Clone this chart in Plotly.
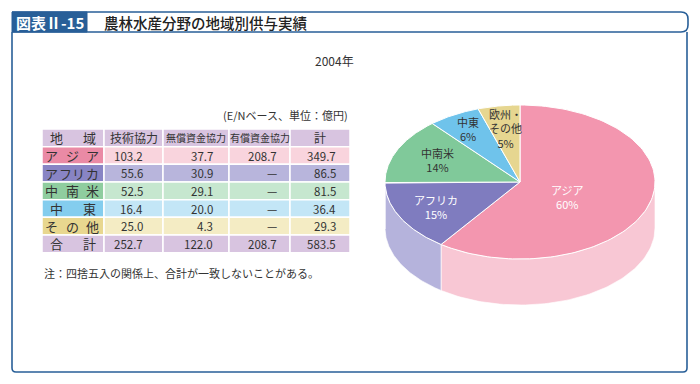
import numpy as np
import plotly.graph_objects as go

# ---------------- data ----------------
col_headers = ["地域", "技術協力", "無償資金協力", "有償資金協力", "計"]
region_labels = ["アジア", "アフリカ", "中南米", "中東", "その他", "合計"]
tech = [103.2, 55.6, 52.5, 16.4, 25.0, 252.7]
grant = [37.7, 30.9, 29.1, 20.0, 4.3, 122.0]
loan = [208.7, None, None, None, None, 208.7]
total = [349.7, 86.5, 81.5, 36.4, 29.3, 583.5]

pie_labels = ["アジア", "アフリカ", "中南米", "中東", "欧州・<br>その他"]
pie_values = total[:5]

title_tag = "図表Ⅱ-15"
title_text = "農林水産分野の地域別供与実績"
year_text = "2004年"
unit_text = "(E/Nベース、単位：億円)"
note_text = "注：四捨五入の関係上、合計が一致しないことがある。"

# ---------------- style ----------------
FONT = "Noto Sans CJK JP"
BLUE = "#285f98"
TXT = "#333333"
OFF = 8  # page body margin of the html page
top_colors = ["#f396af", "#7f7cbf", "#80c99a", "#6fc3eb", "#e6d690"]
side_colors = ["#f8c7d4", "#b5b3dc", "#b9e2c6", "#b5e0f4", "#f1e6be"]
label_colors = ["white", "white", TXT, TXT, TXT]
label_radius = [0.37, 0.70, 0.67, 0.78, 0.70]
label_dy = [6, 0, -1, -1, 0]

header_fill = "#d8c4e0"
first_col_fill = ["#ea8aa5", "#8884c4", "#8fcd9f", "#84cdee", "#e8d78f", "#d8c4e0"]
data_fill = ["#f9d4dd", "#b8b5dc", "#c6e7cf", "#c3e6f6", "#f4ecc4", "#d8c4e0"]

# table geometry (pixels)
col_x = [42, 104, 163, 229, 290, 350]
row_top, row_h = 129, 17.67
num_right = [145, 215, 279, 338]
head_sizes = [13, 12, 10, 10, 12]

CX, CY, RX, RY, DEPTH = 520, 182, 135, 77, 46


def fmt(v):
    return "—" if v is None else f"{v:.1f}"


def pt(theta, f=1.0, dy=0.0):
    t = np.radians(theta)
    return CX + f * RX * np.sin(t), CY - f * RY * np.cos(t) + dy


fig = go.Figure()

# ---------------- 3D pie ----------------
vals = np.array(pie_values, dtype=float)
frac = vals / vals.sum()
cum = np.concatenate([[0], np.cumsum(frac)]) * 360

for i in range(len(vals)):
    a0, a1 = max(cum[i], 90), min(cum[i + 1], 270)
    if a1 <= a0:
        continue
    th = np.linspace(a0, a1, 80)
    xt, yt = pt(th)
    xb, yb = pt(th[::-1], dy=DEPTH)
    fig.add_trace(go.Scatter(
        x=np.concatenate([xt, xb, xt[:1]]), y=np.concatenate([yt, yb, yt[:1]]),
        fill="toself", fillcolor=side_colors[i], mode="lines",
        line=dict(color="rgba(255,255,255,0.8)", width=0.8),
        hoverinfo="skip", showlegend=False))

for i in range(len(vals)):
    th = np.linspace(cum[i], cum[i + 1], 120)
    xa, ya = pt(th)
    fig.add_trace(go.Scatter(
        x=np.concatenate([[CX], xa, [CX]]), y=np.concatenate([[CY], ya, [CY]]),
        fill="toself", fillcolor=top_colors[i], mode="lines",
        line=dict(color="white", width=1),
        hoverinfo="skip", showlegend=False))

for i in range(len(vals)):
    mid = (cum[i] + cum[i + 1]) / 2
    lx, ly = pt(mid, f=label_radius[i], dy=label_dy[i])
    pct = round(frac[i] * 100)
    fig.add_annotation(
        x=lx, y=ly, xref="x", yref="y", showarrow=False,
        text=f"{pie_labels[i]}<br>{pct}%", align="center",
        font=dict(family=FONT, size=11, color=label_colors[i]))

# ---------------- table ----------------
columns = [tech, grant, loan, total]
n_rows = len(region_labels) + 1
for r in range(n_rows):
    y0 = row_top + r * row_h
    y1 = y0 + row_h
    yc = (y0 + y1) / 2
    for c in range(5):
        if r == 0:
            fill = header_fill
        else:
            fill = first_col_fill[r - 1] if c == 0 else data_fill[r - 1]
        fig.add_shape(type="rect", xref="x", yref="y", layer="below",
                      x0=col_x[c], x1=col_x[c + 1], y0=y0, y1=y1,
                      fillcolor=fill, line=dict(color="white", width=1.5))
    # first column: justified characters
    label = col_headers[0] if r == 0 else region_labels[r - 1]
    wide = len(label) == 2
    left, right = (50, 96) if wide else (45, 99)
    w = 13
    centers = np.linspace(left + w / 2, right - w / 2, len(label))
    for ch, cx in zip(label, centers):
        fig.add_annotation(x=cx, y=yc, xref="x", yref="y", text=ch, showarrow=False,
                           font=dict(family=FONT, size=13, color=TXT))
    if r == 0:
        for c in range(1, 5):
            fig.add_annotation(x=(col_x[c] + col_x[c + 1]) / 2, y=yc, xref="x", yref="y",
                               text=col_headers[c], showarrow=False,
                               font=dict(family=FONT, size=head_sizes[c], color=TXT))
    else:
        for c in range(4):
            fig.add_annotation(x=num_right[c], y=yc, xref="x", yref="y",
                               text=fmt(columns[c][r - 1]), showarrow=False, xanchor="right",
                               font=dict(family=FONT, size=11.5, color=TXT))

# ---------------- frame & titles ----------------
fig.add_shape(type="path", xref="x", yref="y",
              path="M 12 12 L 681 12 Q 688 12 688 19 L 688 25 Q 688 32 681 32 L 12 32",
              line=dict(color=BLUE, width=1.6))
fig.add_shape(type="path", xref="x", yref="y",
              path="M 12 32 L 12 368 Q 12 372 16 372 L 683 372 Q 687 372 687 368 L 687 32",
              line=dict(color=BLUE, width=1.6))
fig.add_shape(type="rect", xref="x", yref="y", x0=12, x1=87, y0=12, y1=32,
              fillcolor=BLUE, line=dict(color=BLUE, width=1))

fig.add_annotation(x=49.5, y=22.5, xref="x", yref="y", text=title_tag, showarrow=False,
                   font=dict(family=FONT, size=15, color="white", weight=700))
fig.add_annotation(x=102, y=22.5, xref="x", yref="y", text=title_text, showarrow=False,
                   xanchor="left", font=dict(family=FONT, size=14.5, color="#222222", weight=500))
fig.add_annotation(x=334, y=60, xref="x", yref="y", text=year_text, showarrow=False,
                   font=dict(family=FONT, size=12, color=TXT))
fig.add_annotation(x=350, y=115, xref="x", yref="y", text=unit_text, showarrow=False,
                   xanchor="right", font=dict(family=FONT, size=11, color=TXT))
fig.add_annotation(x=42, y=273, xref="x", yref="y", text=note_text, showarrow=False,
                   xanchor="left", font=dict(family=FONT, size=11, color=TXT))

fig.update_layout(
    width=700, height=384,
    margin=dict(l=0, r=0, t=0, b=0),
    paper_bgcolor="white", plot_bgcolor="white",
    xaxis=dict(range=[OFF, 700 + OFF], visible=False, domain=[0, 1], fixedrange=True),
    yaxis=dict(range=[384 + OFF, OFF], visible=False, domain=[0, 1], fixedrange=True),
    showlegend=False,
)

fig.write_html("out.html")
